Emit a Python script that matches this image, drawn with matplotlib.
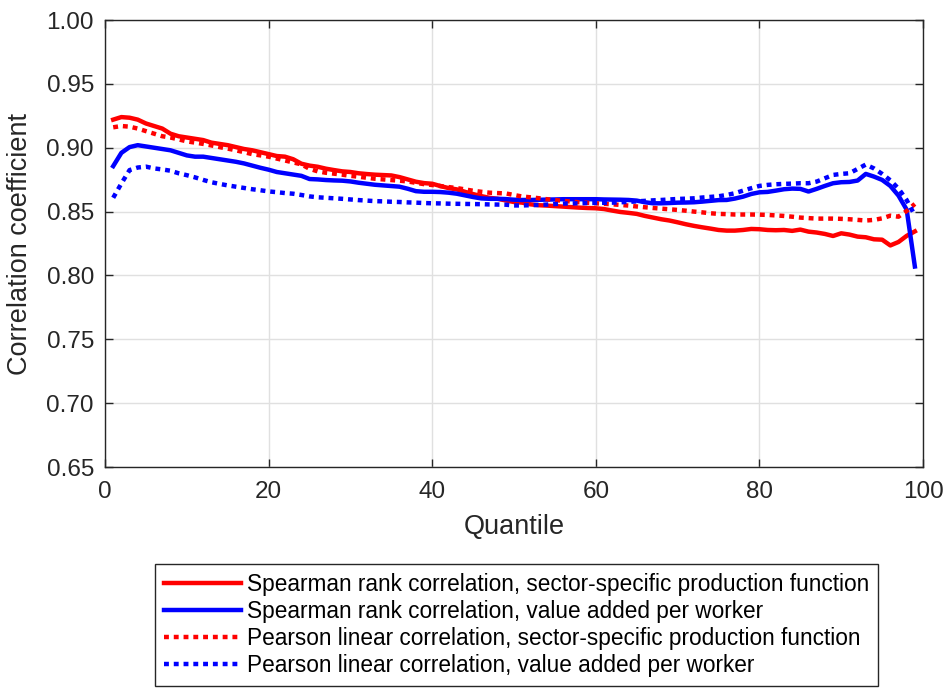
import numpy as np
import matplotlib
matplotlib.use("Agg")
import matplotlib.pyplot as plt

plt.rcParams['font.family'] = ['Liberation Sans', 'DejaVu Sans']

# quantiles 1..99
quantile = np.arange(1, 100)

# Spearman rank correlation, sector-specific production function
spearman_sector = [
    .922, .924, .9235, .922, .919, .917, .915, .911, .909, .908,
    .907, .906, .904, .903, .902, .9005, .899, .898, .8965, .895,
    .8935, .893, .891, .8875, .886, .8851, .8836, .8825, .8815, .881,
    .880, .8794, .8789, .8786, .8783, .877, .8752, .8734, .8723, .8718,
    .870, .8684, .8674, .8655, .8637, .8621, .8608, .860, .8587, .8575,
    .857, .8557, .855, .8547, .8543, .8539, .8535, .8531, .8528, .8526,
    .852, .8508, .8497, .849, .8482, .8466, .8453, .844, .843, .8416,
    .8401, .8388, .8377, .8367, .8356, .8351, .8351, .8356, .8364, .8362,
    .8356, .8354, .8356, .8349, .8359, .8343, .8336, .8325, .8309, .833,
    .832, .8304, .8299, .8283, .828, .8235, .8262, .831, .8345]

# Spearman rank correlation, value added per worker
spearman_va = [
    .8856, .896, .9005, .902, .901, .900, .899, .898, .896, .894,
    .893, .893, .892, .891, .890, .889, .8877, .886, .8843, .8828,
    .881, .880, .879, .878, .8755, .8752, .8747, .8744, .8742, .8736,
    .8726, .8718, .871, .8705, .870, .8695, .8679, .866, .8655, .8655,
    .8653, .8648, .864, .8627, .8614, .8603, .860, .860, .8598, .8593,
    .8591, .8591, .8592, .8594, .8595, .8597, .8597, .8597, .8597, .8597,
    .8595, .8594, .8593, .8591, .8586, .8573, .8565, .8565, .8567, .857,
    .8571, .8573, .8578, .8584, .859, .8591, .8602, .8617, .8638, .8651,
    .8654, .8664, .8675, .868, .8678, .8657, .8678, .8701, .8722, .873,
    .8732, .8743, .8795, .8774, .8748, .8701, .8625, .8515, .807]

# Pearson linear correlation, sector-specific production function
pearson_sector = [
    .916, .917, .9165, .915, .913, .911, .909, .908, .9065, .905,
    .904, .903, .9018, .9005, .8993, .898, .8965, .895, .894, .893,
    .8915, .890, .8885, .887, .8835, .8815, .8804, .8797, .8789, .878,
    .8773, .8765, .8757, .8752, .8747, .8742, .8736, .8725, .8715, .8708,
    .870, .8692, .8684, .8674, .8663, .8655, .8648, .8645, .8642, .863,
    .8618, .8612, .8605, .8597, .859, .8584, .8578, .8573, .8569, .8565,
    .8561, .8557, .8552, .8547, .854, .8534, .8528, .8523, .8518, .8513,
    .8507, .850, .8494, .8487, .8482, .848, .8477, .8477, .8477, .8476,
    .8474, .847, .8466, .846, .8453, .8449, .8445, .8445, .8445, .8443,
    .844, .8435, .843, .8435, .8447, .8468, .846, .8505, .856]

# Pearson linear correlation, value added per worker
pearson_va = [
    .8608, .872, .8825, .8845, .8852, .8838, .883, .882, .880, .8785,
    .8768, .8748, .873, .8717, .8705, .8695, .8685, .8675, .8667, .8658,
    .8652, .8645, .864, .863, .8619, .8612, .8608, .8604, .860, .8595,
    .859, .8586, .8582, .858, .8577, .8575, .8572, .857, .8567, .8565,
    .8564, .8562, .8561, .856, .8559, .8558, .8556, .8555, .8554, .8548,
    .8548, .855, .8552, .8555, .8559, .8563, .8564, .8565, .8567, .8568,
    .8569, .857, .8573, .8576, .858, .8584, .8588, .8591, .8595, .8599,
    .8601, .8604, .861, .8615, .862, .863, .8644, .8664, .8683, .8701,
    .8709, .8714, .8717, .8719, .8722, .8722, .8735, .8761, .8787, .8795,
    .880, .8834, .8868, .8838, .8795, .8745, .868, .859, .847]

labels = [
    "Spearman rank correlation, sector-specific production function",
    "Spearman rank correlation, value added per worker",
    "Pearson linear correlation, sector-specific production function",
    "Pearson linear correlation, value added per worker",
]

axis_col = (0.15, 0.15, 0.15)

fig = plt.figure(figsize=(9.47, 6.88), dpi=100)
ax = fig.add_axes([0.1109, 0.3212, 0.8638, 0.6497])

dots = (0, (1.1, 1.1))
lw = 3.2
ax.plot(quantile, spearman_sector, color='red', lw=lw, label=labels[0])
ax.plot(quantile, spearman_va, color='blue', lw=lw, label=labels[1])
ax.plot(quantile, pearson_sector, color='red', lw=lw, ls=dots,
        dash_capstyle='butt', label=labels[2])
ax.plot(quantile, pearson_va, color='blue', lw=lw, ls=dots,
        dash_capstyle='butt', label=labels[3])

ax.set_xlim(0, 100)
ax.set_ylim(0.65, 1.00)
ax.set_xticks(np.arange(0, 101, 20))
ax.set_yticks(np.arange(0.65, 1.001, 0.05))
ax.set_yticklabels(["%.2f" % v for v in np.arange(0.65, 1.001, 0.05)])

ax.grid(True, color=(0.88, 0.88, 0.88), lw=1.0)
ax.set_axisbelow(True)
for s in ax.spines.values():
    s.set_color(axis_col)
    s.set_linewidth(1.0)
ax.tick_params(direction='in', length=6, width=1.0, colors=axis_col,
               labelsize=17.5, top=True, right=True)
ax.tick_params(axis='x', pad=10)
ax.tick_params(axis='y', pad=8)

ax.set_xlabel("Quantile", fontsize=19.5, color=axis_col, labelpad=8)
ax.set_ylabel("Correlation coefficient", fontsize=19.5, color=axis_col,
              labelpad=10)

leg = ax.legend(loc='upper left', bbox_to_anchor=(155 / 947, 1 - 564 / 688),
                bbox_transform=fig.transFigure, fontsize=16.3, frameon=True,
                fancybox=False, framealpha=1, edgecolor=axis_col,
                handlelength=3.4, handletextpad=0.25, borderpad=0.4,
                labelspacing=0.17, borderaxespad=0)
leg.get_frame().set_linewidth(1.0)

fig.savefig("out.png", dpi=100)
